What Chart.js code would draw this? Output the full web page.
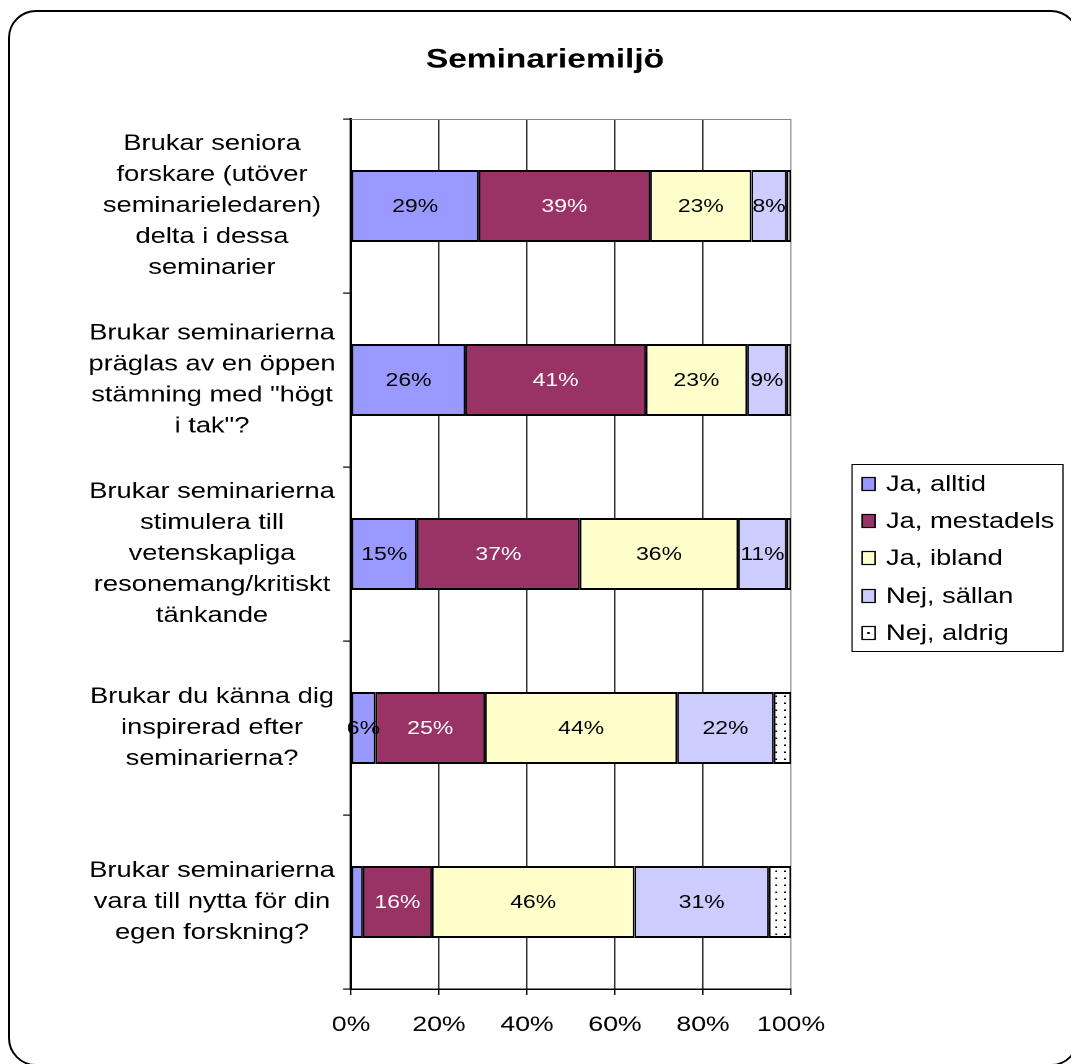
<!DOCTYPE html>
<html><head><meta charset="utf-8">
<script src="https://cdn.jsdelivr.net/npm/chart.js@4.4.0/dist/chart.umd.min.js"></script>
<style>
html,body{margin:0;padding:0;background:#fff;overflow:hidden;width:1071px;height:1064px;}
#frame{position:absolute;left:8px;top:10px;width:1071px;height:1056px;box-sizing:border-box;border:2px solid #000;border-radius:28px;}
#wrap{position:absolute;left:0;top:0;width:864px;height:1064px;transform:scaleX(1.239583);transform-origin:0 0;}
</style></head><body>
<div id="frame"></div>
<div id="wrap"><canvas id="c" width="864" height="1064"></canvas></div>
<script>
const titleText = 'Seminariemiljö';
const categories = [
  ['Brukar seniora', 'forskare (utöver', 'seminarieledaren)', 'delta i dessa', 'seminarier'],
  ['Brukar seminarierna', 'präglas av en öppen', 'stämning med "högt', 'i tak"?'],
  ['Brukar seminarierna', 'stimulera till', 'vetenskapliga', 'resonemang/kritiskt', 'tänkande'],
  ['Brukar du känna dig', 'inspirerad efter', 'seminarierna?'],
  ['Brukar seminarierna', 'vara till nytta för din', 'egen forskning?']
];
const seriesNames = ['Ja, alltid', 'Ja, mestadels', 'Ja, ibland', 'Nej, sällan', 'Nej, aldrig'];
const jaAlltid    = [29, 26, 15, 5.5, 2.7];
const jaMestadels = [39, 41, 37, 25, 15.7];
const jaIbland    = [23, 23, 36, 43.6, 46];
const nejSallan   = [8, 9, 11, 22, 30.6];
const nejAldrig   = [1, 1, 1, 3.9, 5.0];
const xTicks = [0, 20, 40, 60, 80, 100];

const SX = 1071 / 864;
const FONT = '"Liberation Sans", Arial, sans-serif';

function dotPattern() {
  const c = document.createElement('canvas');
  c.width = 14; c.height = 14;
  const g = c.getContext('2d');
  g.fillStyle = '#fff'; g.fillRect(0, 0, 14, 14);
  g.fillStyle = '#000';
  g.fillRect(5, 5, 3, 3);
  const p = g.createPattern(c, 'repeat');
  p.setTransform(new DOMMatrix().scale(0.5));
  return p;
}
const pat = dotPattern();
const fills = ['#9999FF', '#993366', '#FFFFCC', '#CCCCFF', pat];
const labelColors = ['#000', '#fff', '#000', '#000', '#000'];
const seriesData = [jaAlltid, jaMestadels, jaIbland, nejSallan, nejAldrig];

const datasets = seriesData.map((d, i) => ({
  label: seriesNames[i],
  data: d,
  backgroundColor: fills[i],
  borderColor: '#000',
  borderWidth: {top: 2, bottom: 2, left: 1.4, right: 1.4},
  borderSkipped: false,
  barPercentage: 0.414,
  categoryPercentage: 1.0
}));

const decor = {
  id: 'decor',
  beforeDatasetsDraw(chart) {
    const ctx = chart.ctx, a = chart.chartArea;
    ctx.save();
    ctx.strokeStyle = '#888'; ctx.lineWidth = 1;
    ctx.beginPath(); ctx.moveTo(a.left, a.top + 0.5); ctx.lineTo(a.right, a.top + 0.5); ctx.stroke();
    ctx.restore();
  },
  afterDatasetsDraw(chart) {
    const ctx = chart.ctx;
    ctx.save();
    ctx.font = '18.5px ' + FONT;
    ctx.textAlign = 'center'; ctx.textBaseline = 'middle';
    for (let i = 0; i < 4; i++) {
      const meta = chart.getDatasetMeta(i);
      meta.data.forEach((el, j) => {
        const v = chart.data.datasets[i].data[j];
        if (v < 4) return;
        const p = el.getCenterPoint();
        ctx.fillStyle = labelColors[i];
        ctx.fillText(Math.round(v) + '%', p.x, p.y + 1);
      });
    }
    ctx.restore();
  },
  afterDraw(chart) {
    const ctx = chart.ctx;
    const ys = chart.scales.y;
    ctx.save();
    ctx.fillStyle = '#000';
    ctx.font = 'bold 27px ' + FONT;
    ctx.textAlign = 'center'; ctx.textBaseline = 'middle';
    ctx.fillText(titleText, 545 / SX, 60);
    ctx.font = '22px ' + FONT;
    categories.forEach((lines, i) => {
      const yc = ys.getPixelForValue(i);
      const n = lines.length;
      lines.forEach((t, k) => {
        ctx.fillText(t, 212 / SX, yc + (k - (n - 1) / 2) * 31);
      });
    });
    const lx = 852 / SX, lw = (1063 - 852) / SX, ly = 464, lh = 187;
    ctx.strokeStyle = '#000'; ctx.lineWidth = 1;
    ctx.strokeRect(lx, ly + 0.5, lw, lh);
    ctx.font = '22px ' + FONT;
    ctx.textAlign = 'left';
    const rows = [484, 521, 558, 596, 633];
    chart.data.datasets.forEach((ds, i) => {
      const y = rows[i];
      const sw = 13 / SX;
      const sx = 862 / SX;
      ctx.fillStyle = (i === 4) ? '#fff' : ds.backgroundColor;
      ctx.fillRect(sx, y - 6.5, sw, 13);
      if (i === 4) { ctx.fillStyle = '#000'; ctx.fillRect(sx + sw / 2 - 1, y - 1, 2, 2); }
      ctx.strokeStyle = '#000'; ctx.lineWidth = 1.2;
      ctx.strokeRect(sx, y - 6.5, sw, 13);
      ctx.fillStyle = '#000';
      ctx.fillText(ds.label, 886 / SX, y + 1);
    });
    ctx.restore();
  }
};

new Chart(document.getElementById('c'), {
  type: 'bar',
  data: { labels: categories.map(c => c.join(' ')), datasets },
  options: {
    indexAxis: 'y',
    responsive: false,
    maintainAspectRatio: false,
    animation: false,
    devicePixelRatio: 2,
    layout: { padding: { top: 119, left: 0, right: 864 - 791 / SX, bottom: 0 } },
    plugins: { legend: { display: false }, title: { display: false }, tooltip: { enabled: false } },
    scales: {
      x: {
        stacked: true, min: 0, max: 100,
        afterBuildTicks(s) { s.ticks = xTicks.map(v => ({ value: v })); },
        afterFit(s) { s.height = 1064 - 989; },
        ticks: { callback: v => v + '%', font: { family: FONT, size: 21.5 }, color: '#000', padding: 17, maxRotation: 0, autoSkip: false },
        grid: { color: c => (c.tick && c.tick.value === 100) ? '#999' : '#222', lineWidth: 1, tickLength: 6, tickColor: '#000' },
        border: { color: '#000', width: 1.5 }
      },
      y: {
        stacked: true,
        afterFit(s) { s.width = 351 / SX; },
        ticks: { display: false },
        grid: { offset: true, drawOnChartArea: false, tickLength: 8 / SX, color: '#000', tickColor: '#000', lineWidth: 1.2 },
        border: { color: '#000', width: 2 }
      }
    }
  },
  plugins: [decor]
});
</script>
</body></html>
